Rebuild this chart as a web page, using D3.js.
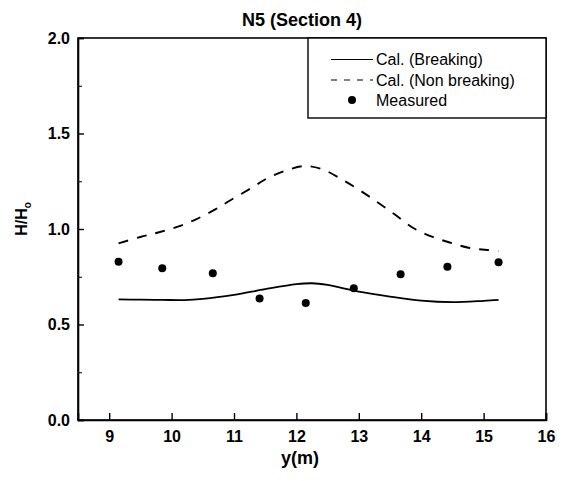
<!DOCTYPE html>
<html>
<head>
<meta charset="utf-8">
<script src="https://d3js.org/d3.v7.min.js"></script>
<style>
  body { margin: 0; background: #fff; }
  text { font-family: "Liberation Sans", Arial, sans-serif; fill: #000; }
</style>
</head>
<body>
<svg id="chart" width="569" height="481"></svg>
<script>
// measured points
const xMeas = [9.15, 9.85, 10.66, 11.41, 12.15, 12.92, 13.67, 14.42, 15.24];
const hMeas = [0.829, 0.795, 0.768, 0.636, 0.612, 0.690, 0.763, 0.803, 0.826];

// calculated, breaking
const xBreak = [9.15, 9.5, 9.85, 10.2, 10.5, 11.0, 11.5, 12.0, 12.25, 12.5, 13.0, 13.5, 14.0, 14.5, 15.0, 15.24];
const hBreak = [0.632, 0.630, 0.629, 0.628, 0.634, 0.655, 0.685, 0.711, 0.716, 0.707, 0.672, 0.646, 0.625, 0.617, 0.624, 0.629];

// calculated, non breaking
const xNon = [9.15, 9.5, 9.8, 10.1, 10.4, 10.7, 10.95, 11.27, 11.53, 11.85, 12.14, 12.42, 12.72, 13.01, 13.3, 13.59, 13.88, 14.17, 14.47, 14.76, 15.06, 15.24];
const hNon = [0.925, 0.958, 0.983, 1.012, 1.052, 1.103, 1.152, 1.213, 1.265, 1.308, 1.330, 1.312, 1.261, 1.204, 1.140, 1.073, 1.004, 0.960, 0.928, 0.902, 0.890, 0.885];

const xTicks = [9, 10, 11, 12, 13, 14, 15, 16];
const yTicks = [0.0, 0.5, 1.0, 1.5, 2.0];
const yMinor = [0.25, 0.75, 1.25, 1.75];

const legendItems = ["Cal. (Breaking)", "Cal. (Non breaking)", "Measured"];

const svg = d3.select("#chart");
const pLeft = 78, pRight = 546, pTop = 38, pBottom = 420;

const x = d3.scaleLinear().domain([8.5, 16]).range([pLeft, pRight]);
const y = d3.scaleLinear().domain([0, 2]).range([pBottom, pTop]);

// frame
svg.append("rect")
   .attr("x", pLeft).attr("y", pTop)
   .attr("width", pRight - pLeft).attr("height", pBottom - pTop)
   .attr("fill", "none").attr("stroke", "#000").attr("stroke-width", 1.6);

// axes, ticks point inward
const xAxis = svg.append("g")
   .attr("transform", "translate(0," + pBottom + ")")
   .call(d3.axisBottom(x).tickValues(xTicks).tickSize(-7).tickPadding(11).tickFormat(d3.format("d")));
const yAxis = svg.append("g")
   .attr("transform", "translate(" + pLeft + ",0)")
   .call(d3.axisLeft(y).tickValues(yTicks).tickSize(-6).tickPadding(8).tickFormat(d3.format(".1f")));
svg.append("g")
   .attr("transform", "translate(" + pLeft + ",0)")
   .call(d3.axisLeft(y).tickValues(yMinor).tickSize(-4).tickFormat(""))
   .call(g => g.select(".domain").remove());

[xAxis, yAxis].forEach(g => {
  g.select(".domain").attr("stroke-width", 1.6);
  g.selectAll(".tick line").attr("stroke-width", 1.4);
  g.selectAll("text")
   .style("font-family", "'Liberation Sans', Arial, sans-serif")
   .style("font-size", "16px").style("font-weight", "bold");
});

// lines
const line = d3.line().x(d => x(d[0])).y(d => y(d[1])).curve(d3.curveCatmullRom);

svg.append("path")
   .datum(xNon.map((v, i) => [v, hNon[i]]))
   .attr("d", line)
   .attr("fill", "none").attr("stroke", "#000").attr("stroke-width", 1.9)
   .attr("stroke-dasharray", "10,9");

svg.append("path")
   .datum(xBreak.map((v, i) => [v, hBreak[i]]))
   .attr("d", line)
   .attr("fill", "none").attr("stroke", "#000").attr("stroke-width", 1.8);

svg.selectAll("circle.meas")
   .data(xMeas.map((v, i) => [v, hMeas[i]]))
   .join("circle")
   .attr("class", "meas")
   .attr("cx", d => x(d[0])).attr("cy", d => y(d[1]))
   .attr("r", 4).attr("fill", "#000");

// legend
const lg = svg.append("g");
lg.append("rect")
  .attr("x", 308).attr("y", pTop).attr("width", pRight - 308).attr("height", 80)
  .attr("fill", "#fff").attr("stroke", "#000").attr("stroke-width", 1.4);
const rowY = [59.5, 80, 100];
lg.append("line").attr("x1", 331).attr("x2", 373).attr("y1", rowY[0]).attr("y2", rowY[0])
  .attr("stroke", "#000").attr("stroke-width", 1.2);
lg.append("line").attr("x1", 331).attr("x2", 373).attr("y1", rowY[1]).attr("y2", rowY[1])
  .attr("stroke", "#000").attr("stroke-width", 1.2).attr("stroke-dasharray", "6,7");
lg.append("circle").attr("cx", 352).attr("cy", rowY[2]).attr("r", 4).attr("fill", "#000");
lg.selectAll("text.item")
  .data(legendItems)
  .join("text")
  .attr("class", "item")
  .attr("x", 376).attr("y", (d, i) => rowY[i] + 5.5)
  .style("font-size", "16px")
  .text(d => d);

// title and labels
svg.append("text")
   .attr("x", 302).attr("y", 26)
   .attr("text-anchor", "middle")
   .style("font-size", "18px").style("font-weight", "bold")
   .text("N5 (Section 4)");

svg.append("text")
   .attr("x", 300).attr("y", 464)
   .attr("text-anchor", "middle")
   .style("font-size", "18px").style("font-weight", "bold")
   .text("y(m)");

const yl = svg.append("text")
   .attr("transform", "translate(27,219) rotate(-90)")
   .attr("text-anchor", "middle")
   .style("font-size", "16px").style("font-weight", "bold");
yl.append("tspan").text("H/H");
yl.append("tspan").attr("dy", 4).style("font-size", "10px").text("o");
</script>
</body>
</html>
